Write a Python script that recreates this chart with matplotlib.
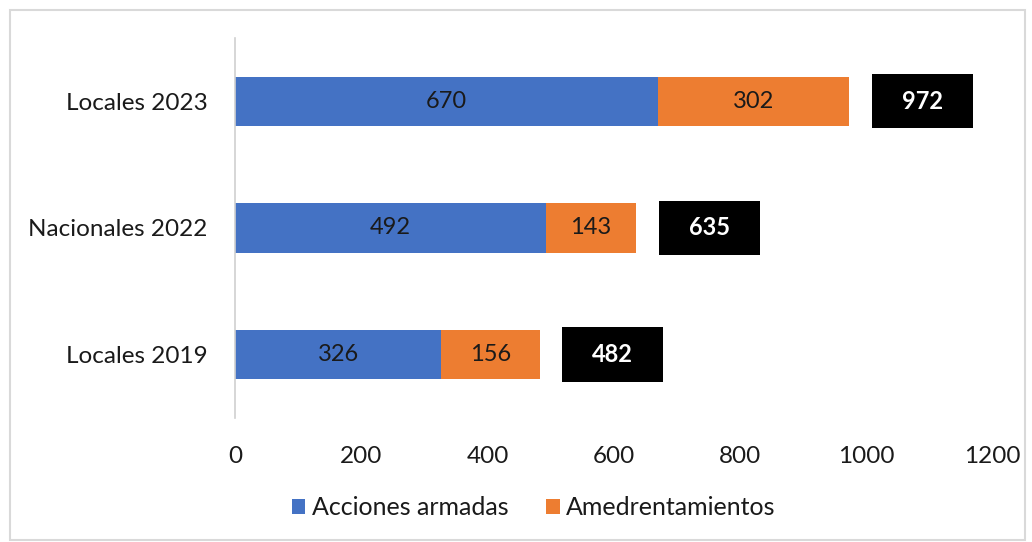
"""Stacked horizontal bars: acciones armadas vs amedrentamientos por elección."""

import matplotlib.pyplot as plt
import numpy as np
from matplotlib.patches import Rectangle

# Data (bottom to top)
categories = ["Locales 2019", "Nacionales 2022", "Locales 2023"]
acciones = [326, 492, 670]
amedrentamientos = [156, 143, 302]
totales = [482, 635, 972]
x_ticks = [0, 200, 400, 600, 800, 1000, 1200]

BLUE = "#4472C4"
ORANGE = "#ED7D31"

plt.rcParams["font.family"] = ["Lato", "DejaVu Sans"]

fig = plt.figure(figsize=(10.32, 5.42), dpi=100)
ax = fig.add_axes([0.228, 0.229, 0.734, 0.701])

y = np.arange(len(categories))
acciones = np.array(acciones)
amedrentamientos = np.array(amedrentamientos)
totales = np.array(totales)

ax.barh(y, acciones, height=0.39, color=BLUE, label="Acciones armadas")
ax.barh(y, amedrentamientos, left=acciones, height=0.39, color=ORANGE,
        label="Amedrentamientos")

# Black boxes with totals, to the right of each bar
gap, box_w = 36, 160
ax.barh(y, box_w, left=totales + gap, height=0.43, color="black")

for yi, a, m, t in zip(y, acciones, amedrentamientos, totales):
    ax.text(a / 2, yi, str(a), ha="center", va="center", fontsize=17, color="#1a1a1a")
    ax.text(a + m / 2, yi, str(m), ha="center", va="center", fontsize=17, color="#1a1a1a")
    ax.text(t + gap + box_w / 2, yi, str(t), ha="center", va="center",
            fontsize=17, color="white", fontweight="bold")

ax.set_xlim(0, 1200)
ax.set_ylim(-0.5, 2.5)
ax.set_xticks(x_ticks)
ax.set_yticks(y)
ax.set_yticklabels(categories)
ax.tick_params(axis="both", length=0, labelsize=17.5, colors="#1a1a1a")
ax.tick_params(axis="x", pad=20)
ax.tick_params(axis="y", pad=20)

for side in ["top", "right", "bottom"]:
    ax.spines[side].set_visible(False)
ax.spines["left"].set_color("#d0d0d0")
ax.spines["left"].set_linewidth(1.2)

ax.legend(loc="center", bbox_to_anchor=(0.517, 0.063),
          bbox_transform=fig.transFigure, ncol=2, frameon=False, fontsize=18,
          handlelength=0.55, handleheight=0.55, handletextpad=0.25, columnspacing=1.5,
          labelcolor="#1a1a1a")

# Light grey frame around the chart
fig.patches.append(Rectangle((0.010, 0.004), 0.983, 0.978, transform=fig.transFigure,
                             fill=False, edgecolor="#d9d9d9", linewidth=1.5))

fig.savefig("out.png", dpi=100)
plt.close(fig)
